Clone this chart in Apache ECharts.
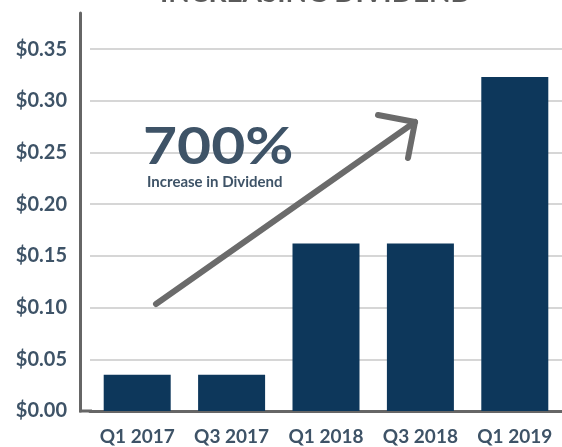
<!DOCTYPE html>
<html>
<head>
<meta charset="utf-8">
<script src="https://cdn.jsdelivr.net/npm/echarts@6/dist/echarts.min.js"></script>
<style>
  html, body { margin: 0; padding: 0; background: #fff; }
  #chart { width: 562px; height: 447px; }
</style>
</head>
<body>
<div id="chart"></div>
<script>
const quarters = ["Q1 2017", "Q3 2017", "Q1 2018", "Q3 2018", "Q1 2019"];
const dividends = [0.035, 0.035, 0.162, 0.162, 0.323];
const yTicks = [0, 0.05, 0.1, 0.15, 0.2, 0.25, 0.3, 0.35];

const labelColor = "#3e5367";
const fontName = "Lato, 'Open Sans', sans-serif";

const myChart = echarts.init(document.getElementById("chart"));

// 繪製圖表
myChart.setOption({
  animation: false,
  grid: { left: 90, right: -4, top: 13, bottom: 36 },
  graphic: [
    {
      type: "text",
      left: 160,
      top: -21,
      style: {
        text: "INCREASING DIVIDEND",
        font: "bold 28px " + fontName,
        fill: "#5a5a5a"
      }
    },
    {
      type: "line",
      shape: { x1: 79, y1: 411, x2: 92, y2: 411 },
      style: { stroke: "#666", lineWidth: 3 }
    },
    {
      type: "polyline",
      z: 10,
      shape: { points: [[156, 304], [415, 122]] },
      style: { stroke: "#6b6b6b", lineWidth: 6, lineCap: "round" }
    },
    {
      type: "polyline",
      z: 10,
      shape: { points: [[378, 115], [415, 122], [408, 158]] },
      style: { stroke: "#6b6b6b", lineWidth: 6, lineCap: "round", lineJoin: "round", fill: null }
    },
    {
      type: "text",
      x: 143,
      y: 121,
      scaleX: 1.13,
      z: 10,
      style: { text: "700%", font: "bold 52px " + fontName, fill: labelColor }
    },
    {
      type: "text",
      x: 147,
      y: 175,
      z: 10,
      style: { text: "Increase in Dividend", font: "bold 15px " + fontName, fill: labelColor }
    }
  ],
  xAxis: {
    type: "category",
    data: quarters,
    axisLine: { lineStyle: { color: "#666", width: 3 } },
    axisTick: { show: false },
    axisLabel: {
      interval: 0,
      hideOverlap: false,
      color: labelColor,
      fontFamily: fontName,
      fontWeight: "bold",
      fontSize: 19,
      margin: 16
    }
  },
  yAxis: {
    type: "value",
    min: 0,
    max: 0.385,
    interval: 0.05,
    offset: 10,
    axisLine: { show: true, lineStyle: { color: "#666", width: 3 } },
    axisTick: { show: false },
    splitLine: { showMaxLine: false, lineStyle: { color: "#d6d6d6", width: 2 } },
    axisLabel: {
      showMaxLabel: false,
      color: labelColor,
      fontFamily: fontName,
      fontWeight: "bold",
      fontSize: 20,
      margin: 13,
      formatter: v => yTicks.some(t => Math.abs(t - v) < 1e-9) ? "$" + v.toFixed(2) : ""
    }
  },
  series: [
    {
      type: "bar",
      data: dividends,
      barWidth: 67,
      itemStyle: { color: "#0d375b" }
    }
  ]
});
</script>
</body>
</html>
